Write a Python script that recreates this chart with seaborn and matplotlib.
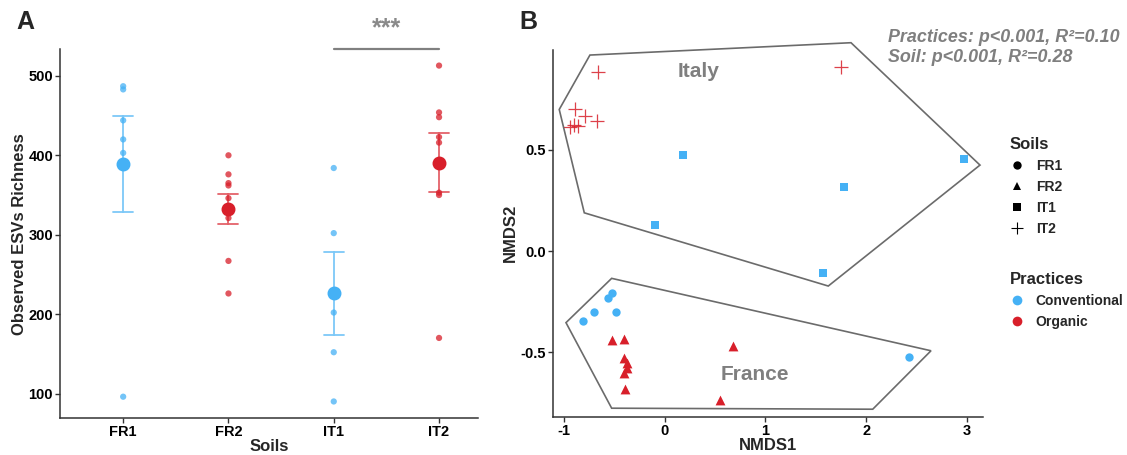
import numpy as np
import pandas as pd
import matplotlib
matplotlib.use('Agg')
import matplotlib.pyplot as plt
from matplotlib.patches import Polygon
from matplotlib.lines import Line2D
import seaborn as sns

# --- panel A: observed ESV richness per soil ---
soils = ['FR1', 'FR2', 'IT1', 'IT2']
practice_of = {'FR1': 'Conventional', 'FR2': 'Organic', 'IT1': 'Conventional', 'IT2': 'Organic'}
rich_fr1 = [487, 483, 444, 420, 403, 96]
rich_fr2 = [400, 376, 365, 362, 346, 328, 321, 267, 226]
rich_it1 = [384, 302, 202, 152, 90]
rich_it2 = [513, 454, 448, 423, 416, 353, 350, 170]

# --- panel B: NMDS ordination ---
fr1_x = [-0.523, -0.569, -0.705, -0.486, -0.817, 2.429]
fr1_y = [-0.209, -0.234, -0.303, -0.303, -0.346, -0.525]
fr2_x = [-0.523, -0.407, 0.680, -0.407, -0.374, -0.380, -0.407, -0.397, 0.548]
fr2_y = [-0.440, -0.437, -0.470, -0.531, -0.552, -0.580, -0.605, -0.684, -0.734]
it1_x = [0.177, 2.973, 1.780, -0.098, 1.569]
it1_y = [0.475, 0.455, 0.316, 0.127, -0.107]
it2_x = [-0.662, 1.747, -0.894, -0.794, -0.678, -0.904, -0.861, -0.940]
it2_y = [0.886, 0.911, 0.700, 0.667, 0.644, 0.623, 0.618, 0.611]

# hand drawn country outlines
italy_x = [-0.745, 1.850, 3.132, 1.624, -0.801, -1.050]
italy_y = [0.969, 1.030, 0.425, -0.173, 0.189, 0.700]
france_x = [-0.529, 2.645, 2.066, -0.529, -0.983]
france_y = [-0.135, -0.493, -0.782, -0.777, -0.354]

pal = {'Conventional': '#45B1F5', 'Organic': '#D81F2A'}
soil_markers = {'FR1': 'o', 'FR2': '^', 'IT1': 's', 'IT2': '+'}
grey_txt = '#7f7f7f'

rich = pd.DataFrame({
    'Soils': ['FR1'] * len(rich_fr1) + ['FR2'] * len(rich_fr2) + ['IT1'] * len(rich_it1) + ['IT2'] * len(rich_it2),
    'Richness': rich_fr1 + rich_fr2 + rich_it1 + rich_it2,
})
rich['Practices'] = rich['Soils'].map(practice_of)

nmds = pd.DataFrame({
    'Soils': ['FR1'] * len(fr1_x) + ['FR2'] * len(fr2_x) + ['IT1'] * len(it1_x) + ['IT2'] * len(it2_x),
    'NMDS1': fr1_x + fr2_x + it1_x + it2_x,
    'NMDS2': fr1_y + fr2_y + it1_y + it2_y,
})
nmds['Practices'] = nmds['Soils'].map(practice_of)

sns.set_style('ticks')
plt.rcParams['font.family'] = ['Liberation Sans', 'DejaVu Sans']
plt.rcParams['axes.unicode_minus'] = False

W, H = 1127, 455
fig = plt.figure(figsize=(W / 100, H / 100), dpi=100)
axA = fig.add_axes([60 / W, 1 - 418.3 / H, (478 - 60) / W, (418.3 - 49.3) / H])
axB = fig.add_axes([552.7 / W, 1 - 416.7 / H, (983.3 - 552.7) / W, (416.7 - 50) / H])

# panel A
sns.stripplot(data=rich, x='Soils', y='Richness', hue='Practices', order=soils,
              palette=pal, jitter=False, size=4.5, alpha=0.75, linewidth=0,
              legend=False, ax=axA)
sns.pointplot(data=rich, x='Soils', y='Richness', hue='Practices', order=soils,
              palette=pal, errorbar='se', capsize=0.19, linestyle='none',
              markersize=8, dodge=False, err_kws={'linewidth': 1.3, 'alpha': 0.7},
              legend=False, ax=axA)
axA.set_xlim(-0.6, 3.37)
axA.set_ylim(68.8, 533.5)
axA.set_yticks([100, 200, 300, 400, 500])
axA.plot([2, 3], [533.5, 533.5], color='#808080', lw=1.6, clip_on=False)
axA.text(2.5, 560, '***', ha='center', va='center', fontsize=18,
         fontweight='bold', color='#8a8a8a', clip_on=False)
axA.set_xlabel('Soils', fontsize=12, fontweight='bold', labelpad=0)
axA.set_ylabel('Observed ESVs Richness', fontsize=12, fontweight='bold', labelpad=1)

# panel B
for s in soils:
    sub = nmds[nmds['Soils'] == s]
    if soil_markers[s] == '+':
        sns.scatterplot(data=sub, x='NMDS1', y='NMDS2', color=pal[practice_of[s]],
                        marker='+', s=90, linewidth=0.9, alpha=0.85, legend=False, ax=axB)
    else:
        size = 50 if s == 'FR2' else 36
        sns.scatterplot(data=sub, x='NMDS1', y='NMDS2', color=pal[practice_of[s]],
                        marker=soil_markers[s], s=size, linewidth=0, legend=False, ax=axB)

for px, py in [(italy_x, italy_y), (france_x, france_y)]:
    axB.add_patch(Polygon(list(zip(px, py)), closed=True, fill=False,
                          edgecolor='#6b6b6b', lw=1.2, clip_on=False))
axB.text(0.332, 0.886, 'Italy', ha='center', va='center', fontsize=15,
         fontweight='bold', color=grey_txt)
axB.text(0.896, -0.608, 'France', ha='center', va='center', fontsize=15,
         fontweight='bold', color=grey_txt)
axB.set_xlim(-1.115, 3.165)
axB.set_ylim(-0.819, 0.994)
axB.set_xticks([-1, 0, 1, 2, 3])
axB.set_yticks([-0.5, 0.0, 0.5])
axB.set_yticklabels(['-0.5', '0.0', '0.5'])
axB.set_xlabel('NMDS1', fontsize=12, fontweight='bold', labelpad=0)
axB.set_ylabel('NMDS2', fontsize=12, fontweight='bold', labelpad=2)

for ax in (axA, axB):
    sns.despine(ax=ax)
    for sp in ('left', 'bottom'):
        ax.spines[sp].set_color('#333333')
        ax.spines[sp].set_linewidth(1.1)
    ax.tick_params(colors='#333333', labelcolor='black', length=3.5, width=1,
                   labelsize=10.5, pad=1.5)
    for lab in ax.get_xticklabels() + ax.get_yticklabels():
        lab.set_fontweight('bold')

fig.text(888 / W, 1 - 38 / H, 'Practices: p<0.001, R²=0.10', fontsize=12.9,
         fontweight='bold', style='italic', color=grey_txt, va='center', ha='left')
fig.text(888 / W, 1 - 58 / H, 'Soil: p<0.001, R²=0.28', fontsize=12.9,
         fontweight='bold', style='italic', color=grey_txt, va='center', ha='left')

fig.text(25 / W, 1 - 22 / H, 'A', fontsize=18, fontweight='bold', va='center', ha='center')
fig.text(528 / W, 1 - 22 / H, 'B', fontsize=18, fontweight='bold', va='center', ha='center')

# legends
soil_handles = [Line2D([], [], marker=soil_markers[s], color='black', linestyle='none',
                       markersize=9 if s == 'IT2' else 6, markeredgewidth=0.8 if s == 'IT2' else 0)
                for s in soils]
prac_handles = [Line2D([], [], marker='o', color=pal[p], linestyle='none', markersize=7,
                       markeredgewidth=0) for p in ['Conventional', 'Organic']]
leg_kw = dict(loc='upper left', frameon=False, borderpad=0, borderaxespad=0,
              handlelength=1.0, handletextpad=0.85, labelspacing=0.5,
              prop={'size': 10, 'weight': 'bold'},
              title_fontproperties={'size': 12, 'weight': 'bold'}, alignment='left')
leg1 = fig.legend(soil_handles, soils, title='Soils',
                  bbox_to_anchor=(1010 / W, 1 - 137 / H), **leg_kw)
leg2 = fig.legend(prac_handles, ['Conventional', 'Organic'], title='Practices',
                  bbox_to_anchor=(1010 / W, 1 - 272 / H), **leg_kw)

fig.savefig('out.png', dpi=100)
